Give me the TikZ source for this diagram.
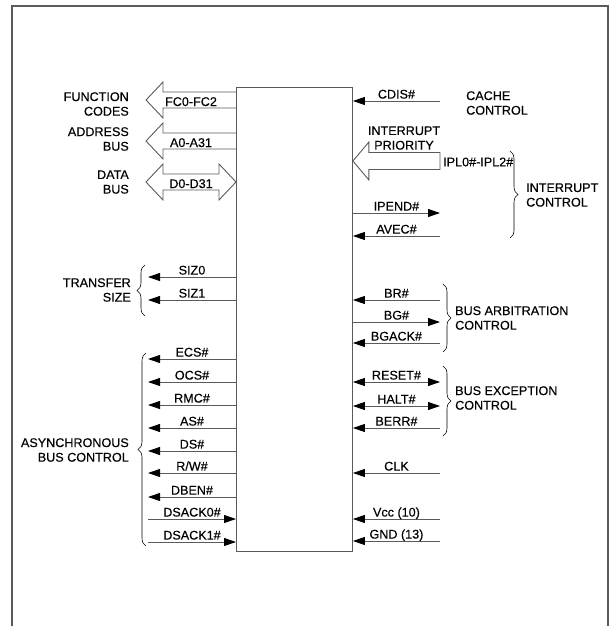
\documentclass[tikz,border=0pt]{standalone}
\usepackage{fontspec}
\setmainfont{Liberation Sans}[FakeBold=0.3]
\usepackage{tikz}
\usetikzlibrary{arrows.meta,calc,decorations.pathreplacing}
\usepackage{xcolor}
\definecolor{wire}{HTML}{5A5A5A}
\definecolor{ink}{HTML}{000000}
\newcommand{\pinfont}{\fontsize{12.6}{14.6}\selectfont}

\begin{document}
\begin{tikzpicture}[x=1pt, y=-1pt,
  >={Triangle[length=12pt,width=8pt,color=ink]},
  every node/.style={inner sep=0pt, text=ink, font=\pinfont},
  sig/.style={draw=wire, line width=0.9pt},
  bus/.style={draw=wire, line width=0.9pt, line join=miter},
  lab/.style={midway, above=2pt, text depth=0pt},
  grpl/.style={anchor=east, align=right},
  grpr/.style={anchor=west, align=left},
  brc/.style={draw=ink, line width=0.6pt, decorate, decoration={brace, amplitude=8pt}}]
% 0. page frame, open at the bottom
\useasboundingbox (0,0) rectangle (614,626);
\draw[wire, line width=1.5pt] (12,640) -- (12,6) -- (608,6) -- (608,640);
% 1. the processor body
\node[draw=wire, line width=0.9pt, anchor=north west, minimum width=116pt, minimum height=464pt] (chip) at (236,87) {};

% 2. hollow bus arrows, left side
\coordinate (fc) at (146,100);
\draw[bus] ($(chip.west |- fc)+(0,-8)$) -| ($(fc)+(17,-18)$) -- (fc) -- ($(fc)+(17,18)$) |- ($(chip.west |- fc)+(0,8)$);
\node[anchor=base] (fcl) at ($(fc)!0.5!(chip.west |- fc)+(0,6)$) {FC0-FC2};
\coordinate (addr) at (146,141);
\draw[bus] ($(chip.west |- addr)+(0,-8)$) -| ($(addr)+(17,-18)$) -- (addr) -- ($(addr)+(17,18)$) |- ($(chip.west |- addr)+(0,8)$);
\node[anchor=base] (addrl) at ($(addr)!0.5!(chip.west |- addr)+(0,6)$) {A0-A31};
\coordinate (data) at (146,182);
\coordinate (datar) at (chip.west |- data);
\draw[bus] (datar) -- ($(datar)+(-17,-18)$) -- ($(datar)+(-17,-8)$) -- ($(data)+(17,-8)$) -- ($(data)+(17,-18)$) -- (data)
  -- ($(data)+(17,18)$) -- ($(data)+(17,8)$) -- ($(datar)+(-17,8)$) -- ($(datar)+(-17,18)$) -- cycle;
\node[anchor=base] (datal) at ($(data)!0.5!(datar)+(0,6)$) {D0-D31};
\node[grpl] (fcg) at (129,104) {FUNCTION\\CODES};
\node[grpl] (addrg) at (129,139) {ADDRESS\\BUS};
\node[grpl] (datag) at (129,182) {DATA\\BUS};

% 3. transfer size
\coordinate (siz0) at (148,277);
\coordinate (siz1) at (148,300);
\draw[sig,->] (chip.west |- siz0) -- (siz0) node[lab] (siz0l) {SIZ0};
\draw[sig,->] (chip.west |- siz1) -- (siz1) node[lab] (siz1l) {SIZ1};
\draw[brc] (145,316) -- (145,265);
\node[grpl] (sizg) at (131,290) {TRANSFER\\SIZE};

% 4. asynchronous bus control
\coordinate (ecs) at (148,359);
\coordinate (ocs) at (148,382);
\coordinate (rmc) at (148,405);
\coordinate (as) at (148,428);
\coordinate (ds) at (148,451);
\coordinate (rw) at (148,473);
\coordinate (dben) at (148,497);
\coordinate (dsack0) at (148,519);
\coordinate (dsack1) at (148,542);
\draw[sig,->] (chip.west |- ecs) -- (ecs) node[lab] (ecsl) {ECS\#};
\draw[sig,->] (chip.west |- ocs) -- (ocs) node[lab] (ocsl) {OCS\#};
\draw[sig,->] (chip.west |- rmc) -- (rmc) node[lab] (rmcl) {RMC\#};
\draw[sig,->] (chip.west |- as) -- (as) node[lab] (asl) {AS\#};
\draw[sig,->] (chip.west |- ds) -- (ds) node[lab] (dsl) {DS\#};
\draw[sig,->] (chip.west |- rw) -- (rw) node[lab] (rwl) {R/W\#};
\draw[sig,->] (chip.west |- dben) -- (dben) node[lab] (dbenl) {DBEN\#};
\draw[sig,<-] (chip.west |- dsack0) -- (dsack0) node[lab] (dsack0l) {DSACK0\#};
\draw[sig,<-] (chip.west |- dsack1) -- (dsack1) node[lab] (dsack1l) {DSACK1\#};
\draw[brc] (146,546) -- (146,353);
\node[grpl] (asyncg) at (129,450) {ASYNCHRONOUS\\BUS CONTROL};

% 5. cache and interrupts, right side
\coordinate (cdis) at (440,101);
\draw[sig,<-] (chip.east |- cdis) -- (cdis) node[lab] (cdisl) {CDIS\#};
\node[grpr] (cacheg) at (466,103) {CACHE\\CONTROL};
\coordinate (ipl) at (440,161);
\draw[bus] (chip.east |- ipl) -- ++(16,-19) |- ($(ipl)+(0,-8.5)$) -- ($(ipl)+(0,8.5)$) -| ($(chip.east |- ipl)+(16,19)$) -- cycle;
\node[anchor=west] (ipll) at ($(ipl)+(3,1)$) {IPL0\#-IPL2\#};
\node[align=center] (iprio) at (404,138) {INTERRUPT\\PRIORITY};
\coordinate (ipend) at (440,213);
\coordinate (avec) at (440,236);
\draw[sig,->] (chip.east |- ipend) -- (ipend) node[lab] (ipendl) {IPEND\#};
\draw[sig,<-] (chip.east |- avec) -- (avec) node[lab] (avecl) {AVEC\#};
\draw[brc] (510,151) -- (510,238);
\node[grpr] (intg) at (526,195) {INTERRUPT\\CONTROL};

% 6. bus arbitration
\coordinate (br) at (440,300);
\coordinate (bg) at (440,322);
\coordinate (bgack) at (440,343);
\draw[sig,<-] (chip.east |- br) -- (br) node[lab] (brl) {BR\#};
\draw[sig,->] (chip.east |- bg) -- (bg) node[lab] (bgl) {BG\#};
\draw[sig,<-] (chip.east |- bgack) -- (bgack) node[lab] (bgackl) {BGACK\#};
\draw[brc] (443,284) -- (443,352);
\node[grpr] (arbg) at (455,318) {BUS ARBITRATION\\CONTROL};

% 7. bus exception
\coordinate (reset) at (440,382);
\coordinate (halt) at (440,406);
\coordinate (berr) at (440,428);
\draw[sig,<->] (chip.east |- reset) -- (reset) node[lab] (resetl) {RESET\#};
\draw[sig,<->] (chip.east |- halt) -- (halt) node[lab] (haltl) {HALT\#};
\draw[sig,<-] (chip.east |- berr) -- (berr) node[lab] (berrl) {BERR\#};
\draw[brc] (443,366) -- (443,436);
\node[grpr] (excg) at (455,398) {BUS EXCEPTION\\CONTROL};

% 8. clock and supply
\coordinate (clk) at (440,473);
\coordinate (vcc) at (440,519);
\coordinate (gnd) at (440,541);
\draw[sig,<-] (chip.east |- clk) -- (clk) node[lab] (clkl) {CLK};
\draw[sig,<-] (chip.east |- vcc) -- (vcc) node[lab] (vccl) {Vcc (10)};
\draw[sig,<-] (chip.east |- gnd) -- (gnd) node[lab] (gndl) {GND (13)};
\end{tikzpicture}
\end{document}
